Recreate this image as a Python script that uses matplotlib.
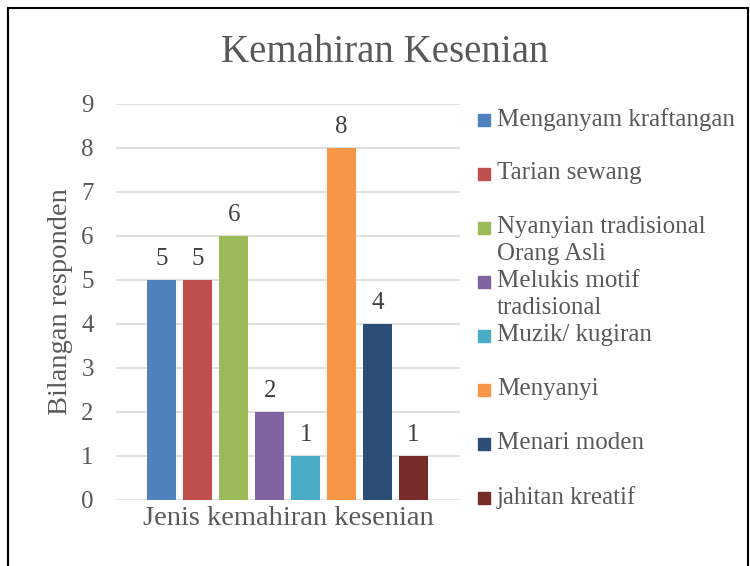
import matplotlib.pyplot as plt
from matplotlib.patches import Rectangle

# data
categories = ["Menganyam kraftangan", "Tarian sewang", "Nyanyian tradisional\nOrang Asli",
              "Melukis motif\ntradisional", "Muzik/ kugiran", "Menyanyi", "Menari moden",
              "jahitan kreatif"]
values = [5, 5, 6, 2, 1, 8, 4, 1]
colors = ["#4F81BD", "#C0504D", "#9BBB59", "#8064A2", "#4BACC6", "#F79646", "#2C4D75", "#772C2A"]
yticks = list(range(0, 10))

plt.rcParams['font.family'] = ['Liberation Serif', 'DejaVu Serif']
grey = "#595959"

fig = plt.figure(figsize=(7.5, 5.66), dpi=100)
ax = fig.add_axes([116/750, 1-500/566, 344/750, 396/566])

x = list(range(len(values)))
ax.bar(x, values, width=0.8, color=colors, zorder=3)
for xi, v in zip(x, values):
    ax.annotate(str(v), (xi, v), xytext=(0, 7), textcoords="offset points",
                ha="center", va="bottom", fontsize=18, color="#404040")

ax.set_xlim(-1.27, 7 + 1.29)
ax.set_ylim(0, 9)
ax.set_yticks(yticks)
ax.set_xticks([])
ax.yaxis.grid(True, color="#D9D9D9", lw=1.2, zorder=0)
for s in ax.spines.values():
    s.set_visible(False)
ax.tick_params(axis="y", length=0, pad=16, labelsize=18, labelcolor=grey)
ax.set_ylabel("Bilangan responden", fontsize=20.5, color=grey, labelpad=6)
ax.set_xlabel("Jenis kemahiran kesenian", fontsize=20.5, color=grey, labelpad=4)

fig.text(385/750, 1-52/566, "Kemahiran Kesenian", ha="center", va="center",
         fontsize=28, color=grey)

# legend, one entry every 54 px
for i, (lab, c) in enumerate(zip(categories, colors)):
    yc = 120 + 54 * i
    fig.patches.append(Rectangle((478/750, 1-(yc+6)/566), 12/750, 12/566,
                                 transform=fig.transFigure, color=c))
    fig.text(497/750, 1-(yc-12)/566, lab, ha="left", va="top", fontsize=18,
             color=grey, linespacing=1.3)

# outer chart border
fig.patches.append(Rectangle((8/750, -0.02), 740/750, 1.0 - 8/566 + 0.02,
                             transform=fig.transFigure, fill=False, ec="black", lw=1.5))

fig.savefig("out.png", dpi=100)
